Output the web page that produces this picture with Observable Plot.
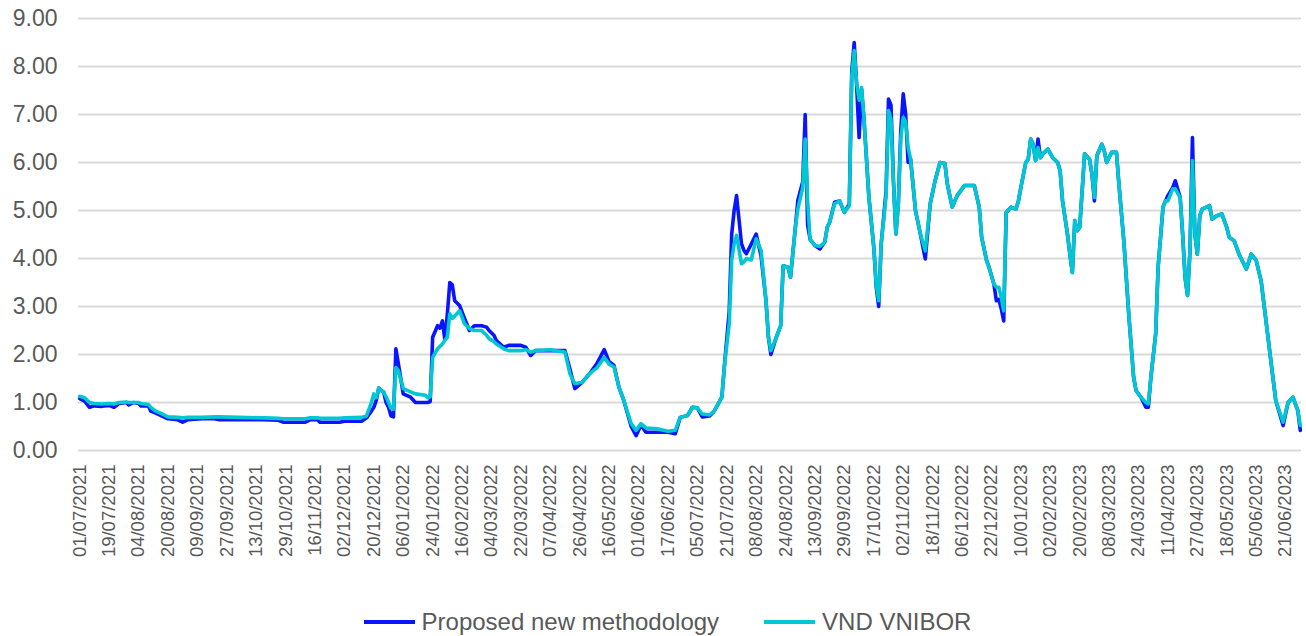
<!DOCTYPE html>
<html><head><meta charset="utf-8">
<script src="https://cdn.jsdelivr.net/npm/d3@7"></script>
<script src="https://cdn.jsdelivr.net/npm/@observablehq/plot@0.6"></script>
<style>
body{margin:0;background:#fff;font-family:"Liberation Sans",Arial,sans-serif;}
#legend{display:flex;justify-content:center;align-items:center;height:38px;padding-left:29px;font-size:24px;color:#595959;}
#legend .item{display:flex;align-items:center;}
#legend .sw{display:inline-block;width:51px;height:4px;margin-right:7px;}
#legend .item + .item{margin-left:45px;}
g[aria-label="y-axis tick label"] text{font-size:23px;}
g[aria-label="x-axis tick label"] text{font-size:18.5px;}
</style></head><body>
<div id="chart"></div>
<div id="legend"></div>
<script>
const tickLabels = ["01/07/2021","19/07/2021","04/08/2021","20/08/2021","09/09/2021","27/09/2021","13/10/2021","29/10/2021","16/11/2021","02/12/2021","20/12/2021","06/01/2022","24/01/2022","16/02/2022","04/03/2022","22/03/2022","07/04/2022","26/04/2022","16/05/2022","01/06/2022","17/06/2022","05/07/2022","21/07/2022","08/08/2022","24/08/2022","13/09/2022","29/09/2022","17/10/2022","02/11/2022","18/11/2022","06/12/2022","22/12/2022","10/01/2023","02/02/2023","20/02/2023","08/03/2023","24/03/2023","11/04/2023","27/04/2023","18/05/2023","05/06/2023","21/06/2023"];
const seriesNames = ["Proposed new methodology", "VND VNIBOR"];
const seriesColors = ["#0a14ff", "#00c8d2"];
const yTicks = [0,1,2,3,4,5,6,7,8,9];

// trading-day index of each observation
const day = [0,2,4,6,9,12,14,16,19,20,22,24,25,28,29,31,33,36,40,42,44,50,55,57,65,75,81,83,92,94,97,98,106,108,115,117,
119,120,121,122,123,124,125,126,127,128,129,130,132,135,137,141,142,143,144,146,147,148,149,150,151,152,153,155,157,159,161,164,166,167,169,170,173,175,180,182,184,186,192,198,
200,202,205,208,211,214,216,218,220,222,225,227,229,231,236,240,243,245,248,250,252,254,257,259,262,263,265,266,267,268,270,271,272,274,276,278,280,281,282,284,286,287,289,290,292,293,295,296,297,298,
300,302,304,305,306,308,310,312,314,315,316,317,318,319,320,322,324,325,326,327,329,330,331,332,333,334,335,336,337,338,339,341,343,345,347,349,351,353,354,356,358,360,361,365,367,368,370,371,373,374,375,376,377,378,380,382,383,384,386,387,388,389,390,391,392,393,395,397,399,
400,401,403,404,405,406,407,408,409,410,412,413,414,415,417,418,419,421,423,424,426,428,430,431,433,435,436,437,439,440,442,443,444,446,447,449,450,451,452,453,454,455,456,457,458,461,462,464,466,468,469,471,473,476,478,480,482,484,486,488,491,493,495,497,498];

const proposed = [1.08,1.03,0.90,0.93,0.92,0.94,0.90,0.98,1.00,0.95,1.00,0.98,0.93,0.93,0.82,0.78,0.73,0.66,0.64,0.59,0.64,0.66,0.66,0.64,0.64,0.64,0.63,0.59,0.59,0.64,0.64,0.59,0.59,0.61,0.61,0.68,
0.82,0.90,1.05,1.30,1.25,1.22,1.00,0.90,0.72,0.70,2.12,1.81,1.18,1.11,1.00,1.00,1.00,1.02,2.36,2.60,2.55,2.70,2.30,2.85,3.50,3.45,3.12,3.02,2.75,2.50,2.60,2.60,2.57,2.50,2.40,2.29,2.15,2.19,2.19,2.15,1.98,2.08,2.08,2.08,
1.70,1.29,1.42,1.60,1.81,2.10,1.85,1.77,1.32,1.04,0.50,0.31,0.53,0.38,0.38,0.38,0.35,0.69,0.73,0.90,0.89,0.70,0.72,0.83,1.11,1.74,2.90,4.50,5.00,5.31,4.31,4.17,4.10,4.30,4.51,4.05,3.12,2.36,2.00,2.33,2.60,3.85,3.82,3.61,4.65,5.21,5.60,7.00,4.70,4.40,
4.27,4.20,4.35,4.65,4.76,5.17,5.20,4.96,5.14,7.90,8.50,7.60,6.52,7.53,6.90,5.27,4.23,3.40,3.00,4.30,5.40,7.32,7.20,5.62,4.51,5.14,6.66,7.43,7.00,6.00,6.07,5.00,4.51,3.99,5.14,5.62,6.00,5.98,5.55,5.07,5.31,5.45,5.52,5.52,5.07,4.44,3.96,3.82,3.47,3.12,3.15,2.95,2.70,4.96,5.07,5.03,5.20,5.48,6.00,6.07,6.49,6.38,6.04,6.49,6.10,6.18,6.28,6.10,6.00,
5.83,5.20,4.51,4.09,3.71,4.79,4.58,4.65,5.41,6.18,6.07,5.76,5.20,6.14,6.38,6.25,6.00,6.21,6.21,5.55,4.37,2.85,1.53,1.25,1.11,0.90,0.90,1.50,2.43,3.82,5.07,5.20,5.31,5.48,5.62,5.27,4.51,3.61,3.23,4.16,6.52,4.51,4.09,4.89,5.03,5.10,4.82,4.89,4.93,4.65,4.44,4.37,4.09,3.78,4.09,3.96,3.54,2.71,1.87,1.04,0.52,1.00,1.11,0.83,0.42];

const vnibor = [1.13,1.10,1.00,0.98,0.97,0.98,0.97,1.00,1.01,1.00,1.00,1.00,0.98,0.96,0.90,0.82,0.78,0.70,0.69,0.68,0.69,0.69,0.70,0.70,0.69,0.68,0.67,0.66,0.66,0.68,0.68,0.67,0.67,0.68,0.69,0.72,
1.00,1.18,1.10,1.30,1.25,1.22,1.12,1.00,0.88,0.86,1.73,1.66,1.29,1.22,1.18,1.15,1.10,1.12,1.94,2.12,2.17,2.22,2.30,2.36,2.85,2.75,2.80,2.91,2.64,2.54,2.50,2.50,2.40,2.33,2.27,2.22,2.12,2.08,2.08,2.10,2.05,2.08,2.10,2.05,
1.60,1.39,1.42,1.60,1.72,1.94,1.80,1.74,1.32,1.04,0.56,0.42,0.56,0.47,0.45,0.40,0.42,0.69,0.73,0.90,0.89,0.76,0.74,0.83,1.11,1.74,2.64,3.96,4.30,4.48,3.89,3.93,4.00,3.97,4.41,4.17,3.12,2.36,2.08,2.33,2.60,3.85,3.82,3.61,4.65,5.03,5.48,6.49,5.20,4.40,
4.27,4.25,4.34,4.65,4.76,5.14,5.20,4.96,5.10,7.80,8.33,7.65,7.30,7.56,6.90,5.27,4.23,3.45,3.12,4.30,5.30,7.08,6.90,5.62,4.51,5.14,6.50,6.94,6.85,6.31,6.07,5.00,4.51,4.16,5.14,5.62,6.00,5.98,5.55,5.07,5.31,5.45,5.52,5.52,5.07,4.44,3.96,3.82,3.47,3.40,3.40,3.19,2.91,4.96,5.07,5.03,5.20,5.48,6.00,6.07,6.49,6.38,6.04,6.31,6.10,6.18,6.28,6.10,6.00,
5.83,5.20,4.51,4.09,3.71,4.79,4.58,4.65,5.41,6.18,6.07,5.76,5.27,6.14,6.38,6.25,6.00,6.21,6.21,5.55,4.37,2.85,1.53,1.25,1.11,1.00,0.97,1.50,2.43,3.82,5.07,5.20,5.20,5.45,5.45,5.27,4.51,3.61,3.23,4.16,6.04,4.51,4.09,4.89,5.03,5.10,4.82,4.89,4.93,4.65,4.44,4.37,4.09,3.78,4.09,3.96,3.54,2.71,1.87,1.04,0.59,1.00,1.11,0.83,0.52];

const tickIndex = tickLabels.map((_, k) => k * 12);
const lastDay = day[day.length - 1];

const chart = Plot.plot({
  width: 1306,
  height: 603,
  marginLeft: 78,
  marginRight: 5,
  marginTop: 18,
  marginBottom: 153,
  style: {fontFamily: "'Liberation Sans', Arial, sans-serif", color: "#595959", background: "#fff", overflow: "visible"},
  x: {domain: [-0.5, lastDay + 0.5]},
  y: {domain: [0, 9]},
  marks: [
    Plot.gridY(yTicks, {stroke: "#d9d9d9", strokeOpacity: 1, strokeWidth: 2}),
    Plot.axisY(yTicks, {tickSize: 0, tickPadding: 21, tickFormat: d3.format(".2f"), fontSize: 23, label: null, fill: "#595959"}),
    Plot.axisX(tickIndex, {tickSize: 0, tickPadding: 14, tickRotate: -90, tickFormat: (d) => tickLabels[d / 12], fontSize: 18.5, label: null, fill: "#595959"}),
    Plot.line(day, {x: (d) => d, y: (d, k) => proposed[k], stroke: seriesColors[0], strokeWidth: 3.6, strokeLinejoin: "round"}),
    Plot.line(day, {x: (d) => d, y: (d, k) => vnibor[k], stroke: seriesColors[1], strokeWidth: 3.6, strokeLinejoin: "round"})
  ]
});
document.getElementById("chart").appendChild(chart);

const legend = document.getElementById("legend");
seriesNames.forEach((name, k) => {
  const item = document.createElement("div");
  item.className = "item";
  const sw = document.createElement("span");
  sw.className = "sw";
  sw.style.background = seriesColors[k];
  const label = document.createElement("span");
  label.textContent = name;
  item.appendChild(sw);
  item.appendChild(label);
  legend.appendChild(item);
});
</script>
</body></html>
